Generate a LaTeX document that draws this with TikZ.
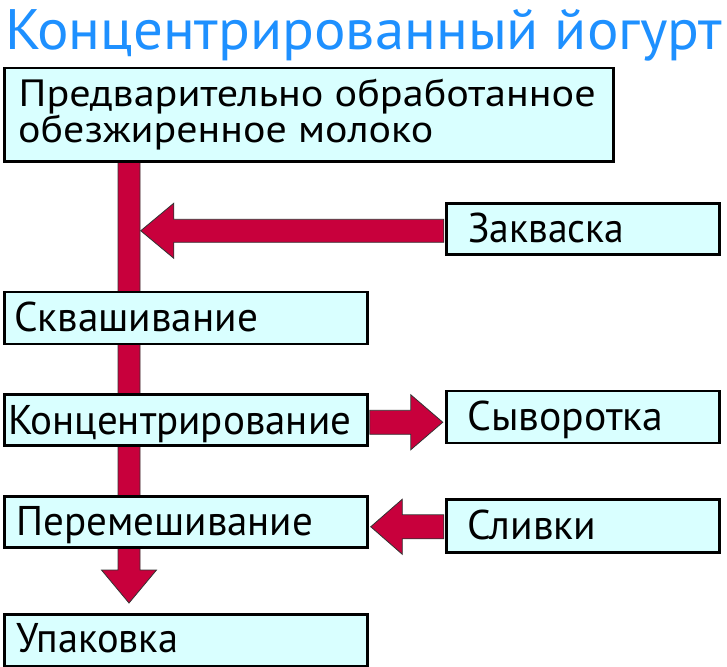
\documentclass[tikz,border=0pt]{standalone}
\usepackage{fontspec}
\usepackage{graphicx}
\setmainfont{PT Sans}
\usetikzlibrary{calc}
\definecolor{boxfill}{RGB}{217,255,255}
\definecolor{arrowred}{RGB}{200,0,60}
\definecolor{titleblue}{RGB}{30,144,255}
\newcommand\fitw[2]{\resizebox{#1pt}{\height}{#2}}
% horizontal arrow: tail centre T, length D (positive = leftwards), head length L, half widths s,h
\newcommand\arrH[5]{%
  \filldraw[flowarrow] ($(#1)+(0,-#4)$) -- ($(#1)+({-(#2)+(#3)},-#4)$) -- ($(#1)+({-(#2)+(#3)},-#5)$)
  -- ($(#1)+({-(#2)},0)$) -- ($(#1)+({-(#2)+(#3)},#5)$) -- ($(#1)+({-(#2)+(#3)},#4)$) -- ($(#1)+(0,#4)$) -- cycle;}
% vertical arrow pointing down (y grows downwards here)
\newcommand\arrV[5]{%
  \filldraw[flowarrow] ($(#1)+(-#4,0)$) -- ($(#1)+(-#4,{(#2)-(#3)})$) -- ($(#1)+(-#5,{(#2)-(#3)})$)
  -- ($(#1)+(0,#2)$) -- ($(#1)+(#5,{(#2)-(#3)})$) -- ($(#1)+(#4,{(#2)-(#3)})$) -- ($(#1)+(#4,0)$) -- cycle;}
\begin{document}
\begin{tikzpicture}[x=1pt,y=-1pt,
  box/.style={draw=black,line width=2.5pt,fill=boxfill,inner sep=0pt,anchor=north west},
  flowarrow/.style={fill=arrowred,draw=black!80,line width=0.8pt,line join=miter},
  lbl/.style={anchor=base west,inner sep=0pt,font=\fontsize{41.5}{50}\selectfont},
  lblA/.style={anchor=base west,inner sep=0pt,font=\fontsize{38}{46}\selectfont},
  ttl/.style={anchor=base west,inner sep=0pt,text=titleblue,font=\fontsize{57}{68}\selectfont}]
\useasboundingbox (0,0) rectangle (727,666);
\fill[white] (0,0) rectangle (727,666);
% title
\node[ttl] (title) at (5,50) {\fitw{717}{Концентрированный йогурт}};
% boxes (empty shapes, labels placed below)
\coordinate (b1nw) at (3,67);
\coordinate (bartop) at ($(b1nw)+(126,93)$);
% main vertical flow with down arrow head
\arrV{bartop}{443}{33}{11}{27.5}
\node[box,minimum width=609pt,minimum height=93pt] (b1) at (b1nw) {};
\node[box,minimum width=273pt,minimum height=51pt] (zakv) at (445,202) {};
\node[box,minimum width=363pt,minimum height=52pt] (skv) at (3,290.5) {};
\node[box,minimum width=363pt,minimum height=51pt] (konc) at (3,393) {};
\node[box,minimum width=273pt,minimum height=52pt] (syv) at (445,389.5) {};
\node[box,minimum width=363pt,minimum height=51pt] (perem) at (3,495) {};
\node[box,minimum width=273pt,minimum height=53pt] (sliv) at (445,498) {};
\node[box,minimum width=363pt,minimum height=52pt] (upak) at (3,613) {};
% side arrows
\coordinate (zt) at ($(zakv.west)+(-1.25,2)$);
\arrH{zt}{303}{33}{11.5}{27.5}
\coordinate (kt) at ($(konc.east)+(1.25,2.5)$);
\arrH{kt}{-73}{-32}{12}{27.5}
\coordinate (st) at ($(sliv.west)+(-1.25,1)$);
\arrH{st}{73}{31.5}{12}{27.5}
% labels
\node[lblA] (t1a) at (18.5,106.5) {\fitw{577}{Предварительно обработанное}};
\node[lblA] (t1b) at (18,142.7) {\fitw{415}{обезжиренное молоко}};
\node[lbl] (tz) at (468,242) {\fitw{156}{Закваска}};
\node[lbl] (ts) at (14,331.5) {\fitw{244}{Сквашивание}};
\node[lbl] (tk) at (8,434) {\fitw{343}{Концентрирование}};
\node[lbl] (tsy) at (467,430) {\fitw{196}{Сыворотка}};
\node[lbl] (tp) at (16,535) {\fitw{297}{Перемешивание}};
\node[lbl] (tsl) at (467,539) {\fitw{129}{Сливки}};
\node[lbl] (tu) at (16,652) {\fitw{162}{Упаковка}};
\end{tikzpicture}
\end{document}
